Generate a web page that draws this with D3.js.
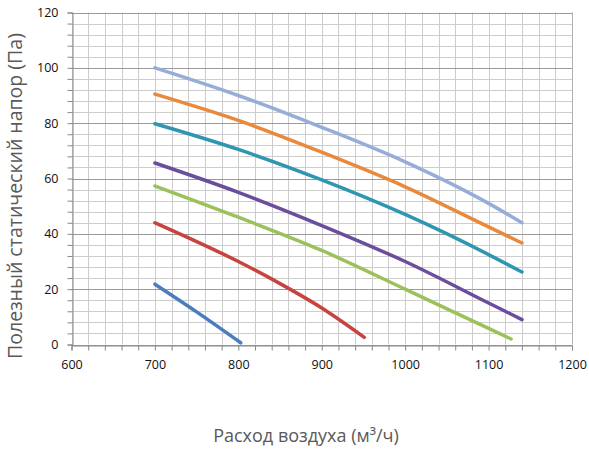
<!DOCTYPE html>
<html><head><meta charset="utf-8">
<script src="https://cdn.jsdelivr.net/npm/d3@7"></script>
<style>body{margin:0;background:#fff}svg{display:block}</style>
</head><body>
<svg id="c" width="589" height="450"></svg>
<script>
const xTicks = [600, 700, 800, 900, 1000, 1100, 1200];
const yTicks = [0, 20, 40, 60, 80, 100, 120];
const seriesNames = ["s1","s2","s3","s4","s5","s6","s7"];
const seriesColors = ["#95add8","#e8893c","#2f96b1","#6a4d9c","#9cc05a","#c8433f","#4a7dbf"];
const seriesX = [
  [700, 800, 900, 1000, 1100, 1140],
  [700, 800, 900, 1000, 1100, 1140],
  [700, 800, 900, 1000, 1100, 1140],
  [700, 800, 900, 1000, 1100, 1140],
  [700, 800, 900, 1000, 1100, 1127],
  [700, 750, 800, 850, 900, 951],
  [700, 750, 803]
];
const seriesY = [
  [100, 90, 78.5, 66, 51, 44],
  [90.5, 81, 69.5, 57, 42.5, 36.7],
  [79.8, 70.5, 59.5, 47, 32.5, 26.2],
  [65.6, 55, 43, 30, 15, 9],
  [57.3, 46, 34, 20, 5.8, 2],
  [44, 37.2, 30, 22, 13.2, 2.6],
  [21.8, 11.8, 0.6]
];
const xTitle = "Расход воздуха (м³/ч)";
const yTitle = "Полезный статический напор (Па)";

const svg = d3.select("#c");
const L = 71.5, R = 572, T = 12.5, B = 344.5;
const x = d3.scaleLinear().domain([600, 1200]).range([L, R]);
const y = d3.scaleLinear().domain([0, 120]).range([B, T]);

const g = svg.append("g");
const xMinor = d3.range(600, 1201, 20);
const yMinor = d3.range(0, 121, 4);
g.selectAll(".vx").data(xMinor).join("line")
  .attr("x1", d => Math.round(x(d)) + 0.5).attr("x2", d => Math.round(x(d)) + 0.5)
  .attr("y1", T).attr("y2", B).attr("stroke", "#cdcdcd").attr("stroke-width", 1);
g.selectAll(".hy").data(yMinor.filter(d => d % 20 !== 0)).join("line")
  .attr("x1", L).attr("x2", R)
  .attr("y1", d => Math.round(y(d)) + 0.5).attr("y2", d => Math.round(y(d)) + 0.5)
  .attr("stroke", "#cdcdcd").attr("stroke-width", 1);
g.selectAll(".hM").data(yTicks).join("line")
  .attr("x1", L).attr("x2", R)
  .attr("y1", d => Math.round(y(d)) + 0.5).attr("y2", d => Math.round(y(d)) + 0.5)
  .attr("stroke", "#9a9a9a").attr("stroke-width", 1);
g.append("line").attr("x1", Math.round(x(1200))+0.5).attr("x2", Math.round(x(1200))+0.5)
  .attr("y1", T).attr("y2", B).attr("stroke", "#b0b0b0");

const xAxis = d3.axisBottom(x).tickValues(xMinor).tickSize(5).tickFormat(d => xTicks.includes(d) ? d : "");
const yAxis = d3.axisLeft(y).tickValues(yMinor).tickSize(5).tickFormat(d => yTicks.includes(d) ? d : "");
const gx = svg.append("g").attr("transform", `translate(0,${Math.round(B)+0.5})`).call(xAxis);
const gy = svg.append("g").attr("transform", `translate(${Math.round(L)+0.5},0)`).call(yAxis);
[gx, gy].forEach(a => {
  a.select(".domain").attr("stroke", "#888").attr("stroke-width", 1);
  a.selectAll(".tick line").attr("stroke", "#888");
  a.selectAll("text").attr("font-family", "'Open Sans', sans-serif").attr("font-size", 12.5).attr("fill", "#111");
});
gx.selectAll("text").attr("dy", "1.25em");
gy.selectAll("text").attr("x", -14);

const line = d3.line().x(d => x(d[0])).y(d => y(d[1])).curve(d3.curveMonotoneX);
seriesNames.forEach((n, i) => {
  const pts = seriesX[i].map((v, j) => [v, seriesY[i][j]]);
  svg.append("path").datum(pts).attr("d", line)
    .attr("fill", "none").attr("stroke", seriesColors[i]).attr("stroke-width", 3.5)
    .attr("stroke-linecap", "round");
});

svg.append("text").attr("x", 306).attr("y", 442).attr("text-anchor", "middle")
  .attr("font-family", "'Open Sans', sans-serif").attr("font-size", 18).attr("fill", "#595959")
  .text(xTitle);
svg.append("text").attr("transform", "translate(22,196) rotate(-90)").attr("text-anchor", "middle")
  .attr("font-family", "'Open Sans', sans-serif").attr("font-size", 19.5).attr("fill", "#595959")
  .text(yTitle);
</script>
</body></html>
